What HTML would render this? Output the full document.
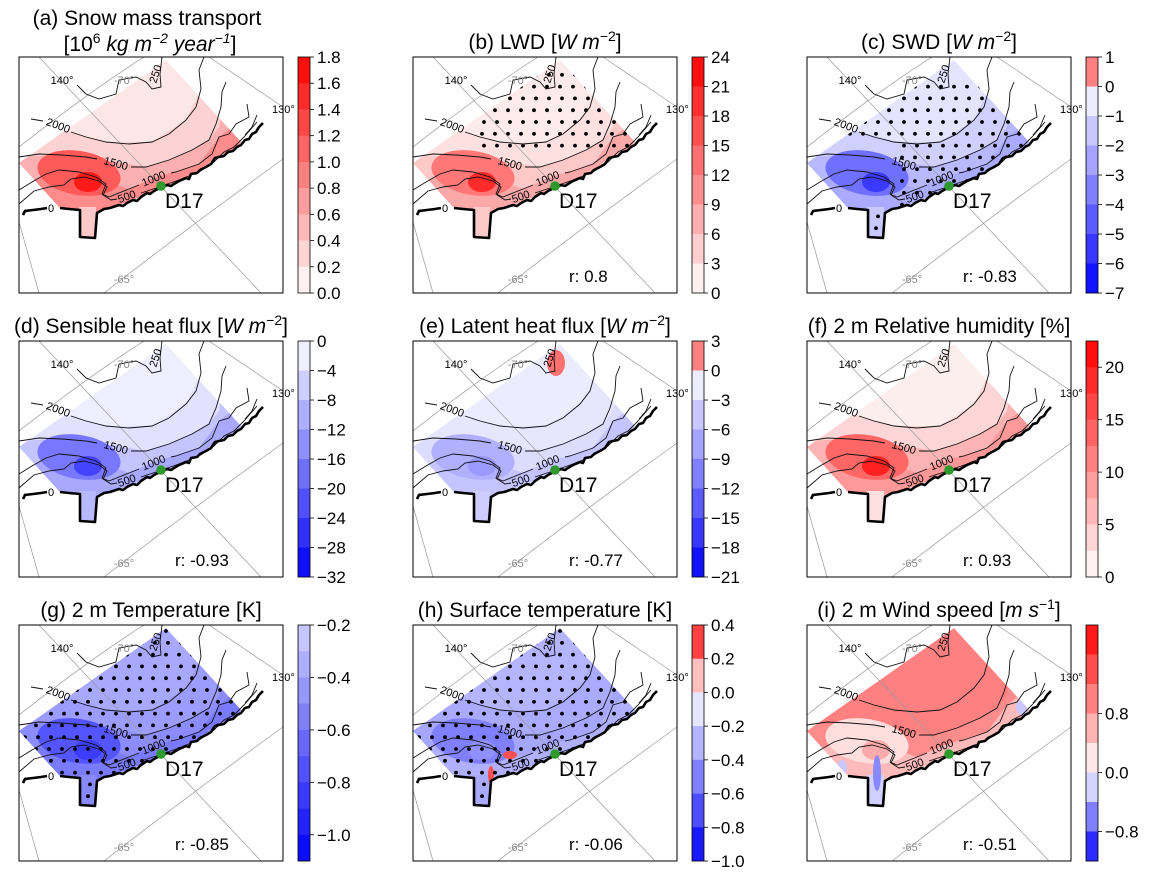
<!DOCTYPE html>
<html><head><meta charset="utf-8"><style>
html,body{margin:0;padding:0;background:#fff;}
svg{display:block;font-family:"Liberation Sans",sans-serif;}
</style></head><body>
<svg id="fig" width="1151" height="877" viewBox="0 0 1151 877" xmlns="http://www.w3.org/2000/svg">
<defs id="defs"></defs>
</svg>
<script>
// ---- data ----
const panelIds=['a','b','c','d','e','f','g','h','i'];
const rValues=['','0.8','-0.83','-0.93','-0.77','0.93','-0.85','-0.06','-0.51'];
const cbLevels=[
 [1.8,1.6,1.4,1.2,1.0,0.8,0.6,0.4,0.2,0.0],
 [24,21,18,15,12,9,6,3,0],
 [1,0,-1,-2,-3,-4,-5,-6,-7],
 [0,-4,-8,-12,-16,-20,-24,-28,-32],
 [3,0,-3,-6,-9,-12,-15,-18,-21],
 [22.5,20,17.5,15,12.5,10,7.5,5,2.5,0],
 [-0.2,-0.3,-0.4,-0.5,-0.6,-0.7,-0.8,-0.9,-1.0,-1.1],
 [0.4,0.2,0.0,-0.2,-0.4,-0.6,-0.8,-1.0],
 [2.0,1.6,1.2,0.8,0.4,0.0,-0.4,-0.8,-1.2]
];
const cbTickValues=[
 [1.8,1.6,1.4,1.2,1.0,0.8,0.6,0.4,0.2,0.0],
 [24,21,18,15,12,9,6,3,0],
 [1,0,-1,-2,-3,-4,-5,-6,-7],
 [0,-4,-8,-12,-16,-20,-24,-28,-32],
 [3,0,-3,-6,-9,-12,-15,-18,-21],
 [20,15,10,5,0],
 [-0.2,-0.4,-0.6,-0.8,-1.0],
 [0.4,0.2,0.0,-0.2,-0.4,-0.6,-0.8,-1.0],
 [0.8,0.0,-0.8]
];
const cbTickLabels=[
 ['1.8','1.6','1.4','1.2','1.0','0.8','0.6','0.4','0.2','0.0'],
 ['24','21','18','15','12','9','6','3','0'],
 ['1','0','−1','−2','−3','−4','−5','−6','−7'],
 ['0','−4','−8','−12','−16','−20','−24','−28','−32'],
 ['3','0','−3','−6','−9','−12','−15','−18','−21'],
 ['20','15','10','5','0'],
 ['−0.2','−0.4','−0.6','−0.8','−1.0'],
 ['0.4','0.2','0.0','−0.2','−0.4','−0.6','−0.8','−1.0'],
 ['0.8','0.0','−0.8']
];
const titleMarkup=[
 '',
 '(b) LWD [<tspan font-style="italic">W m</tspan><tspan font-size="14" dy="-8">−2</tspan><tspan dy="8">]</tspan>',
 '(c) SWD [<tspan font-style="italic">W m</tspan><tspan font-size="14" dy="-8">−2</tspan><tspan dy="8">]</tspan>',
 '(d) Sensible heat flux [<tspan font-style="italic">W m</tspan><tspan font-size="14" dy="-8">−2</tspan><tspan dy="8">]</tspan>',
 '(e) Latent heat flux [<tspan font-style="italic">W m</tspan><tspan font-size="14" dy="-8">−2</tspan><tspan dy="8">]</tspan>',
 '(f) 2 m Relative humidity [%]',
 '(g) 2 m Temperature [K]',
 '(h) Surface temperature [K]',
 '(i) 2 m Wind speed [<tspan font-style="italic">m s</tspan><tspan font-size="14" dy="-8">−1</tspan><tspan dy="8">]</tspan>'
];
// field styling: [full, band1, band2, band3, hot, core, tongue]
const fieldStyle=[
 ['#fde6e6','#fcd2d2','#fab0b0','#ff8c8c','#ff5a5a','#ff1a1a','#fcc8c8'],
 ['#fdeaea','#fde0e0','#fcc8c8','#faa8a8','#ff7777','#ff2a2a','#fcc8c8'],
 ['#e4e4ff','#d0d0ff','#b8b8ff','#aaaaff','#7070ff','#3a3aff','#c8c8ff'],
 ['#eeeeff','#e2e2ff','#c4c4ff','#a8a8ff','#7777ff','#4444ff','#b8b8ff'],
 ['#ececff','#e6e6ff','#dcdcff','#c4c4ff','#b0b0ff','#9999ff','#ccccff'],
 ['#fdeeee','#fcd6d6','#fbb3b3','#ff9999','#ff6666','#ff2222','#fde0e0'],
 ['#a8a8ff','#9c9cff','#8c8cff','#7a7aff','#5555ff','#3d3dff','#8888ff'],
 ['#b4b4ff','#aaaaff','#a6a6ff','#b0b0ff','#8080ff','#9090ff','#aaaaff'],
 ['#ff8080','#ff8080','#ff8c8c','#ffbbbb','#ffdede','#ffaaaa','#d0d0ff']
];
const stippleMode=['none','upper','most','none','none','none','all','all','none'];

const NS='http://www.w3.org/2000/svg';
const svg=document.getElementById('fig');
const defs=document.getElementById('defs');
function mk(tag,attrs,parent){const e=document.createElementNS(NS,tag);for(const k in attrs)e.setAttribute(k,attrs[k]);(parent||svg).appendChild(e);return e;}
function bwr(v,pmax,nmin){
 if(v>=0){const c=Math.round(255*(1-Math.min(1,v/pmax)));return `rgb(255,${c},${c})`;}
 const c=Math.round(255*(1-Math.min(1,-v/nmin)));return `rgb(${c},${c},255)`;
}
const DOMAIN='0,106 147,3 222,85 216,92 198,100 181,113 160,124 141,131 114,143 91,151 78,155 76,180 61,180 61,153 41,151';
const COAST='M41,151 L50,152 L61,153 L61,180 L76,181 L78,156 L85,152 L91,151 L100,148 L104,149 L108,146 L114,143 L118,144 L122,140 L128,136 L131,137 L135,134 L141,131 L148,128 L152,129 L155,127 L160,124 L167,121 L170,122 L172,117 L178,116 L181,113 L187,110 L192,107 L196,101 L200,100 L205,99 L209,95 L214,94 L218,90 L222,88 L226,83 L230,82 L233,77 L237,75 L240,70 L244,66';
const COAST2='M4,158 L6,154 L14,153 L22,152 L28,151';
const CONTOURS=[
 'M143,0 L141,17 L142,30 L133,32 L127,25 L117,20 L100,23 L97,37 L80,42 L67,37 L58,28',
 'M12,62 L24,64','M52,75 L67,80 L87,85 L110,87 L133,85 L150,77 L167,63 L177,50 L182,32 L180,13 L185,0',
 'M0,100 L20,97 L43,98 L67,100 L78,102','M112,110 L127,110 L150,103 L173,93 L190,83 L197,67 L202,50 L203,35 L207,25',
 'M0,133 L13,125 L27,117 L40,113 L60,115 L77,120 L87,127 L83,137 L90,140 L110,132 L120,128','M152,116 L157,115 L180,107 L193,97 L200,80 L210,77 L217,67 L230,60 L228,47',
 'M0,147 L15,134 L30,130 L45,128 L52,122 L65,120 L80,124 L88,130 L84,138 L92,143 L98,142','M122,136 L140,130 L160,123 L180,115 L195,105 L205,95 L215,90 L225,80 L238,65',
 'M238,58 L233,70 L226,78'
];
const CLABELS=[['250',140,18,-72],['2000',38,72,20],['1500',96,110,15],['1000',136,125,-22],['500',109,143,-20],['0',32,155,0]];

panelIds.forEach((pid,k)=>{
 const col=k%3,row=Math.floor(k/3);
 const AX=19+col*394, AY=57+row*284;
 const g=mk('g',{transform:`translate(${AX},${AY})`});
 
 
 const cp=mk('clipPath',{id:'clip-'+pid},defs);
 mk('polygon',{points:DOMAIN},cp);
 const ca=mk('clipPath',{id:'axclip-'+pid},defs);
 mk('rect',{x:0,y:0,width:264,height:236},ca);
 const fs=fieldStyle[k];
 const field=mk('g',{'clip-path':`url(#clip-${pid})`},g);
 
 
 mk('polygon',{points:DOMAIN,fill:fs[0]},field);
 mk('path',{d:'M-5,72 L52,75 L87,85 L133,85 L167,63 L182,32 L185,0 L270,0 L270,240 L-5,240 Z',fill:fs[1]},field);
 mk('path',{d:'M-5,100 L43,98 L80,102 L127,110 L150,103 L173,93 L190,83 L200,70 L205,40 L270,40 L270,240 L-5,240 Z',fill:fs[2]},field);
 mk('path',{d:'M-5,135 L13,125 L37,113 L60,115 L77,120 L110,132 L135,121 L180,107 L200,80 L217,67 L230,60 L270,60 L270,240 L-5,240 Z',fill:fs[3]},field);
 mk('ellipse',{cx:60,cy:116,rx:42,ry:22,transform:'rotate(10 60 116)',fill:fs[4]},field);
 mk('ellipse',{cx:69,cy:125,rx:14,ry:10,fill:fs[5]},field);
 mk('rect',{x:60,y:150,width:17,height:32,fill:fs[6]},field);
 if(pid==='e'){const p=mk('ellipse',{cx:143,cy:22,rx:9,ry:13,fill:'#ff7070'},field);}
 if(pid==='h'){
  const s1=mk('ellipse',{cx:97,cy:130,rx:7,ry:4,fill:'#ff5050'},field);
  const s2=mk('ellipse',{cx:78,cy:150,rx:3,ry:9,fill:'#ff5050'},field);
  const s3=mk('ellipse',{cx:219,cy:94,rx:4,ry:5,fill:'#ffaaaa'},field);
 }
 if(pid==='i'){
  const s1=mk('ellipse',{cx:70,cy:148,rx:4,ry:18,fill:'#8888ff'},field);
  const s2=mk('ellipse',{cx:35,cy:143,rx:5,ry:8,fill:'#c8c8ff'},field);
  const s3=mk('ellipse',{cx:215,cy:82,rx:6,ry:8,fill:'#c8c8ff'},field);
 }
 const mode=stippleMode[k];
 if(mode!=='none'){
  const sg=mk('g',{'clip-path':`url(#clip-${pid})`},g);
  
  
  for(let r=0;r<20;r++){
   const y=6+r*11.8;
   for(let c=0;c<22;c++){
    const x=4+c*13+(r%2)*2;
    if(mode==='upper'&&!(y<92&&x>58&&y>12))continue;
    if(mode==='most'&&(x<88&&y>80&&y<150))continue;
    if(mode==='most'&&y<20)continue;
    const d=mk('circle',{cx:x,cy:y,r:1.9,fill:'#000'},sg);
    
    
   }
  }
 }
 const gg=mk('g',{'clip-path':`url(#axclip-${pid})`,stroke:'#999','stroke-width':0.7,fill:'none'},g);
 
 
 ['M20,0 L242,236','M0,165 L20,236','M190,0 L264,50','M0,90 Q70,35 125,0','M85,236 Q170,170 264,102'].forEach(d=>{
  const l=mk('path',{d:d},gg);
 });
 const cg=mk('g',{'clip-path':`url(#axclip-${pid})`,stroke:'#111','stroke-width':0.9,fill:'none'},g);
 
 
 CONTOURS.forEach(d=>{const l=mk('path',{d:d},cg);});
 CLABELS.forEach(c=>{
  const t=mk('text',{x:c[1],y:c[2],'font-size':11,'text-anchor':'middle',transform:`rotate(${c[3]} ${c[1]} ${c[2]})`},g);
  t.textContent=c[0];
  
  
 });
 const coast=mk('path',{d:COAST,stroke:'#000','stroke-width':2.6,fill:'none','stroke-linejoin':'round'},g);
 
 
 const coast2=mk('path',{d:COAST2,stroke:'#000','stroke-width':2.6,fill:'none'},g);
 
 
 [['140°',43,27,'#000','middle'],['-70°',105,27,'#888','middle'],['130°',253,56,'#000','start'],['-65°',105,226,'#888','middle']].forEach(L=>{
  const t=mk('text',{x:L[1],y:L[2],'font-size':11,fill:L[3],'text-anchor':L[4]},g);
  t.textContent=L[0];
  
  
 });
 const dot=mk('circle',{cx:142,cy:129,r:4.8,fill:'#2e9a2e'},g);
 
 
 const dl=mk('text',{x:146,y:151,'font-size':21},g);
 dl.textContent='D17';
 
 
 if(rValues[k]){
  const rt=mk('text',{x:156,y:225,'font-size':17},g);
  rt.textContent='r: '+rValues[k];
  
  
 }
 const fr=mk('rect',{x:0,y:0,width:264,height:236,fill:'none',stroke:'#000','stroke-width':1},g);
 
 
 if(k===0){
  const t1=mk('text',{x:147,y:25,'font-size':21,'text-anchor':'middle'});
  t1.textContent='(a) Snow mass transport';
  
  
  const t2=mk('text',{x:150,y:51,'font-size':21,'text-anchor':'middle'});
  t2.innerHTML='[10<tspan font-size="14" dy="-8">6</tspan><tspan dy="8" font-style="italic"> kg m</tspan><tspan font-size="14" dy="-8" font-style="italic">−2</tspan><tspan dy="8" font-style="italic"> year</tspan><tspan font-size="14" dy="-8" font-style="italic">−1</tspan><tspan dy="8">]</tspan>';
  
  
 } else {
  const t=mk('text',{x:AX+132,y:AY-8,'font-size':21,'text-anchor':'middle'});
  t.innerHTML=titleMarkup[k];
  
  
 }
 const lv=cbLevels[k];
 const vmax=lv[0],vmin=lv[lv.length-1];
 const pmax=vmax>0?vmax:1,nmin=vmin<0?-vmin:1;
 const CX=AX+279,H=236;
 const yOf=v=>AY+(vmax-v)/(vmax-vmin)*H;
 const cb=mk('g',{});
 
 
 for(let s=0;s<lv.length-1;s++){
  const y0=yOf(lv[s]),y1=yOf(lv[s+1]);
  const seg=mk('rect',{x:CX,y:y0,width:12,height:y1-y0+0.3,fill:bwr((lv[s]+lv[s+1])/2,pmax,nmin)},cb);
  
  
 }
 const cbf=mk('rect',{x:CX,y:AY,width:12,height:H,fill:'none',stroke:'#000','stroke-width':0.8},cb);
 
 
 cbTickValues[k].forEach((v,j)=>{
  const y=yOf(v);
  const tk=mk('line',{x1:CX+12,x2:CX+16,y1:y,y2:y,stroke:'#000','stroke-width':0.8},cb);
  
  
  const tl=mk('text',{x:CX+19,y:y+6,'font-size':17},cb);
  tl.textContent=cbTickLabels[k][j];
  
  
 });
});
</script>
</body></html>
